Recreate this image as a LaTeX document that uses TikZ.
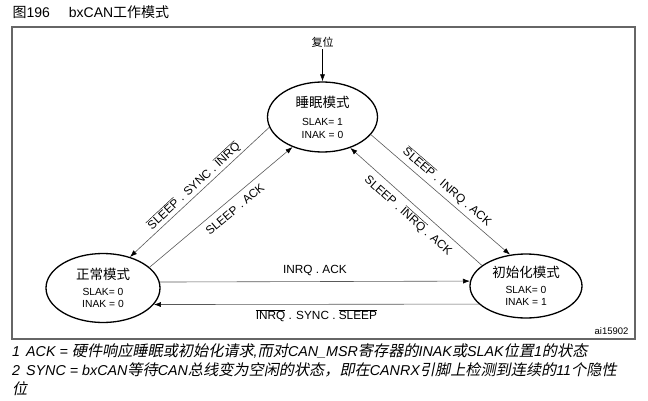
\documentclass[tikz,border=0pt]{standalone}
\usepackage{fontspec}
\setmainfont{Liberation Sans}
\newfontfamily\zh{Noto Sans CJK SC}
\newfontfamily\zhit[FakeSlant=0.2,Scale=1.06]{Noto Sans CJK SC}
\usetikzlibrary{shapes,arrows.meta}

\newcommand{\nbar}[1]{$\overline{\mbox{#1}}$}

\tikzset{
  mode/.style={ellipse,draw,line width=1.3pt,inner sep=0pt,align=center,
    font=\fontsize{10.3}{12.5}\selectfont},
  trans/.style={-{Latex[length=7pt,width=5pt,color=black]},draw=black!65,line width=0.6pt},
  lbl/.style={font=\fontsize{11.8}{14}\selectfont,inner sep=1pt}
}

\begin{document}
\begin{tikzpicture}[x=1pt,y=-1pt]
\useasboundingbox (0,0) rectangle (648,401);

% title and frame
\node[anchor=west,font=\fontsize{14}{16}\selectfont] (title) at (9,12) {{\zh 图}196\hspace{19pt}bxCAN{\zh 工作模式}};
\draw[draw=black!60,line width=1.5pt] (12,27) rectangle (635,339);
\node[anchor=east,font=\fontsize{9.5}{11}\selectfont] (code) at (632,331) {ai15902};

% the three modes
\node[mode,minimum width=110pt,minimum height=70pt] (sleep) at (322.5,117)
  {{\zh\fontsize{13.5}{16}\selectfont 睡眠模式}\\[6pt]SLAK= 1\\INAK = 0};
\node[mode,minimum width=114pt,minimum height=69pt] (normal) at (103,288)
  {{\zh\fontsize{13.5}{16}\selectfont 正常模式}\\[3pt]SLAK= 0\\INAK = 0};
\node[mode,minimum width=112pt,minimum height=64pt] (init) at (526,286)
  {{\zh\fontsize{13.5}{16}\selectfont 初始化模式}\\[3pt]SLAK= 0\\INAK = 1};

% reset
\node[font=\zh\fontsize{11}{13}\selectfont,inner sep=2pt] (reset) at (322.5,42) {复位};
\draw[trans,draw=black] (reset) -- (sleep);

% transitions
\draw[trans] (sleep.191.5) -- (normal.49)
  node[midway,sloped,above=1pt,lbl] {\nbar{SLEEP} . SYNC . \nbar{INRQ}};
\draw[trans] (normal.24) -- (sleep.225)
  node[pos=0.55,sloped,below=5pt,lbl] {SLEEP . ACK};
\draw[trans] (sleep.340) -- (init.117)
  node[midway,sloped,above=3pt,lbl] {\nbar{SLEEP} . INRQ . ACK};
\draw[trans] (init.155) -- (sleep.312)
  node[midway,sloped,below=4pt,lbl] {SLEEP . \nbar{INRQ} . ACK};
\draw[trans] (normal.6.6) -- (init.175.4)
  node[midway,above=5pt,lbl] {INRQ . ACK};
\draw[trans] (init.201.24) -- (normal.342.49)
  node[midway,below=4pt,lbl] {\nbar{INRQ} . SYNC . \nbar{SLEEP}};

% footnotes
\node[anchor=north west,align=left,inner sep=0pt,font=\itshape\fontsize{14.3}{19}\selectfont] (notes) at (12,343)
  {1\hspace{6pt}ACK = {\zhit 硬件响应睡眠或初始化请求},{\zhit 而对}CAN\_MSR{\zhit 寄存器的}INAK{\zhit 或}SLAK{\zhit 位置}1{\zhit 的状态}\\
   2\hspace{6pt}SYNC = bxCAN{\zhit 等待}CAN{\zhit 总线变为空闲的状态，即在}CANRX{\zhit 引脚上检测到连续的}11{\zhit 个隐性}\\
   {\zhit 位}};
\end{tikzpicture}
\end{document}
